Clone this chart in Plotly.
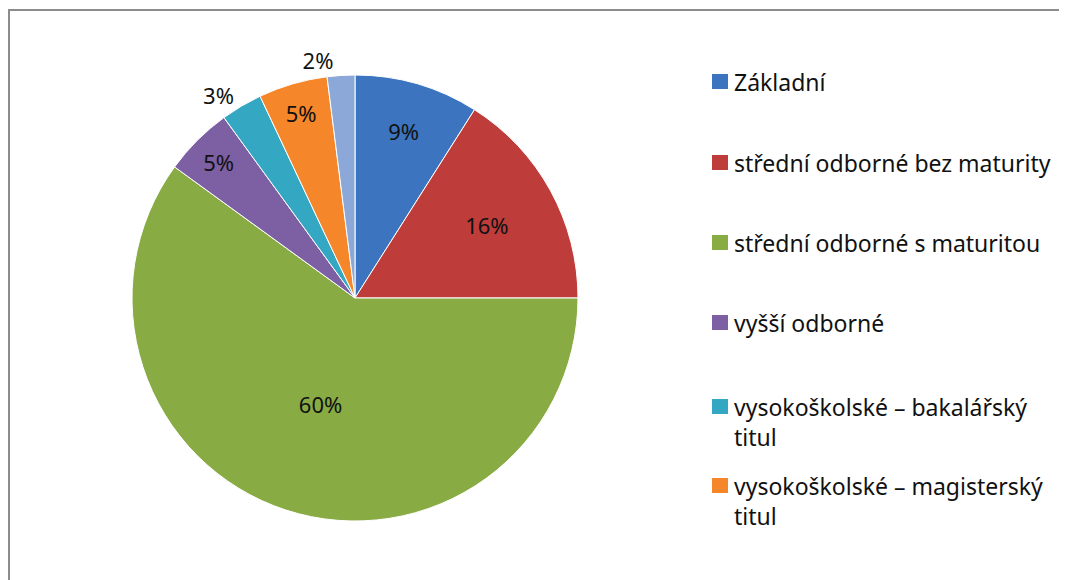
import plotly.graph_objects as go

# ---- data ----
categories = [
    "Základní",
    "střední odborné bez maturity",
    "střední odborné s maturitou",
    "vyšší odborné",
    "vysokoškolské – bakalářský titul",
    "vysokoškolské – magisterský titul",
    "ostatní",
]
values = [9, 16, 60, 5, 3, 5, 2]
legend_lines = [
    ["Základní"],
    ["střední odborné bez maturity"],
    ["střední odborné s maturitou"],
    ["vyšší odborné"],
    ["vysokoškolské – bakalářský", "titul"],
    ["vysokoškolské – magisterský", "titul"],
]

colors = ["#3C74C0", "#BE3C3A", "#88AB44", "#7D5FA4", "#34A7C2", "#F5862A", "#8BA8D8"]
text_pos = ["inside", "inside", "inside", "inside", "outside", "inside", "outside"]

W, H = 1067, 580
OFF = 8  # page body margin offset
FONT = "Noto Sans"
FS = 22

def px(x):
    return (x - OFF) / W

def py(y):
    return 1 - (y - OFF) / H

fig = go.Figure()
fig.add_trace(go.Pie(
    labels=categories,
    values=values,
    sort=False,
    direction="clockwise",
    rotation=0,
    marker=dict(colors=colors, line=dict(color="white", width=1)),
    texttemplate="%{percent:.0%}",
    textposition=text_pos,
    insidetextorientation="horizontal",
    textfont=dict(family=FONT, size=FS, color="#111111"),
    domain=dict(x=[px(355 - 223), px(355 + 223)], y=[py(521), py(75)]),
    showlegend=False,
    hoverinfo="label+percent",
))

shapes = [dict(type="rect", xref="paper", yref="paper",
               x0=px(9), x1=1.03, y0=-0.03, y1=py(10),
               line=dict(color="#8C8C8C", width=2), fillcolor="rgba(0,0,0,0)")]
annotations = []
row_y = [82, 163, 243, 323, 407, 486]
for i, lines in enumerate(legend_lines):
    y = row_y[i]
    shapes.append(dict(type="rect", xref="paper", yref="paper",
                       x0=px(712), x1=px(728), y0=py(y + 7), y1=py(y - 8),
                       fillcolor=colors[i], line=dict(color=colors[i], width=0)))
    for j, ln in enumerate(lines):
        annotations.append(dict(
            xref="paper", yref="paper", x=px(732),
            y=py(y + 30 * j), xanchor="left", yanchor="middle",
            text=ln, showarrow=False,
            font=dict(family=FONT, size=FS + 1, color="#111111"),
        ))

fig.update_layout(
    width=W, height=H,
    margin=dict(l=0, r=0, t=0, b=0),
    paper_bgcolor="white",
    plot_bgcolor="white",
    shapes=shapes,
    annotations=annotations,
    uniformtext=dict(minsize=FS, mode="show"),
)

fig.write_html("out.html")
